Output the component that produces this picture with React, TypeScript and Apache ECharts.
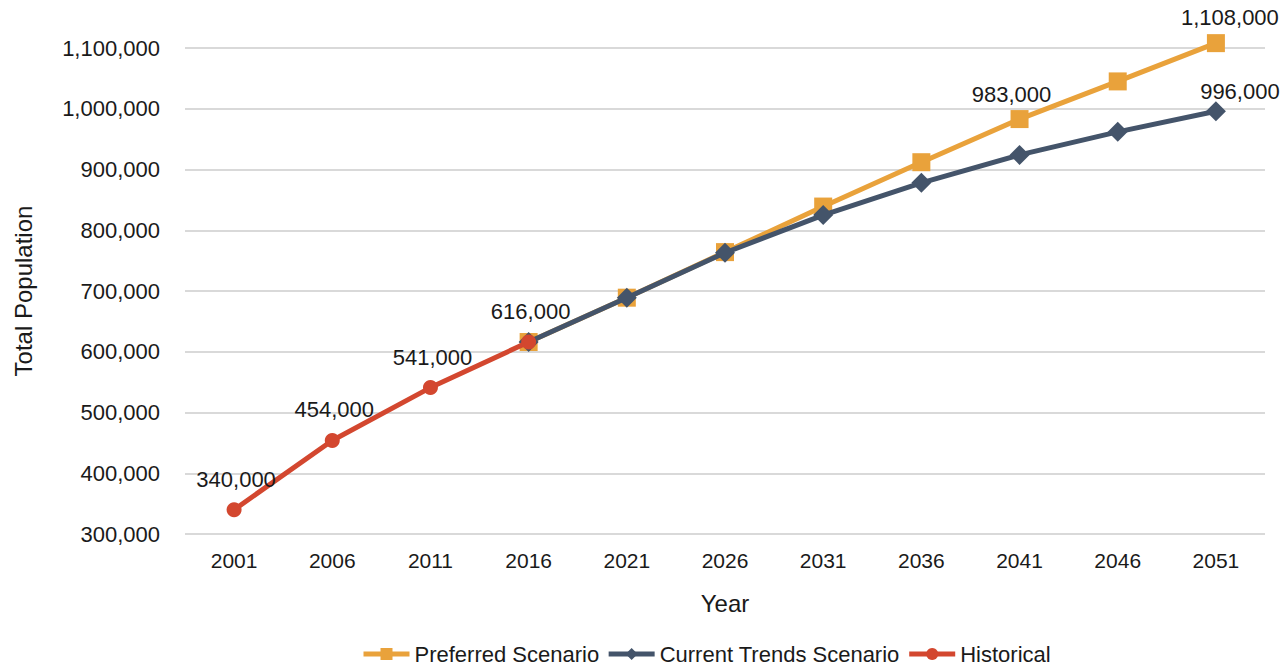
import React, { useEffect, useRef } from "react";
import * as echarts from "echarts";

const years = ["2001", "2006", "2011", "2016", "2021", "2026", "2031", "2036", "2041", "2046", "2051"];
const preferred: (number | null)[] = [null, null, null, 616000, 689000, 764000, 839000, 912000, 983000, 1045000, 1108000];
const currentTrends: (number | null)[] = [null, null, null, 616000, 689000, 763000, 825000, 878000, 924000, 962000, 996000];
const historical: (number | null)[] = [340000, 454000, 541000, 616000, null, null, null, null, null, null, null];

const preferredLabelled = ["2041", "2051"];
const currentLabelled = ["2051"];
const historicalLabelled = ["2001", "2006", "2011", "2016"];

const FONT = "'Liberation Sans', Arial, sans-serif";
const TEXT = "#1a1a1a";
const fmt = (v: number) => v.toLocaleString("en-US");

function build(values: (number | null)[], labelled: string[], offsets: Record<string, [number, number]>) {
  return values.map((v, i) => {
    if (v === null) return "-";
    if (labelled.includes(years[i])) {
      return {
        value: v,
        label: {
          show: true,
          position: "top",
          distance: 12,
          offset: offsets[years[i]] || [0, 0],
          formatter: (p: any) => fmt(p.value),
          fontSize: 22,
          fontFamily: FONT,
          color: TEXT,
        },
      };
    }
    return v;
  });
}

export default function App() {
  const ref = useRef<HTMLDivElement>(null);
  useEffect(() => {
    if (!ref.current) return;
    const chart = echarts.init(ref.current, undefined, { renderer: "svg" });
    chart.setOption({
      animation: false,
      backgroundColor: "#ffffff",
      grid: { left: 185, right: 19, top: 48, bottom: 133 },
      legend: {
        bottom: -3,
        left: 356,
        itemWidth: 46,
        itemHeight: 15,
        itemGap: 7,
        lineStyle: { width: 5 },
        textStyle: { fontSize: 22, fontFamily: FONT, color: TEXT },
        data: ["Preferred Scenario", "Current Trends Scenario", "Historical"],
      },
      xAxis: {
        type: "category",
        data: years,
        boundaryGap: true,
        name: "Year",
        nameLocation: "middle",
        nameGap: 57,
        nameTextStyle: { fontSize: 24, fontFamily: FONT, color: TEXT },
        axisLine: { show: false },
        axisTick: { show: false },
        axisLabel: { fontSize: 21, fontFamily: FONT, color: TEXT, margin: 16 },
      },
      yAxis: {
        type: "value",
        min: 300000,
        max: 1100000,
        interval: 100000,
        name: "Total Population",
        nameLocation: "middle",
        nameGap: 150,
        nameTextStyle: { fontSize: 24, fontFamily: FONT, color: TEXT },
        axisLine: { show: false },
        axisTick: { show: false },
        splitLine: { lineStyle: { color: "#d9d9d9", width: 2 } },
        axisLabel: {
          fontSize: 22,
          fontFamily: FONT,
          color: TEXT,
          margin: 25,
          formatter: (v: number) => fmt(v),
        },
      },
      series: [
        {
          name: "Preferred Scenario",
          type: "line",
          data: build(preferred, preferredLabelled, { "2041": [-8, 7], "2051": [14, 6] }),
          color: "#E9A23B",
          symbol: "rect",
          symbolSize: 18,
          lineStyle: { width: 5 },
          clip: false,
          z: 2,
        },
        {
          name: "Current Trends Scenario",
          type: "line",
          data: build(currentTrends, currentLabelled, { "2051": [24, 13] }),
          color: "#44546A",
          symbol: "diamond",
          symbolSize: 20,
          lineStyle: { width: 5 },
          clip: false,
          z: 3,
        },
        {
          name: "Historical",
          type: "line",
          data: build(historical, historicalLabelled, { "2001": [2, 0], "2006": [2, 0], "2011": [2, 0], "2016": [2, 0] }),
          color: "#D3472F",
          symbol: "circle",
          symbolSize: 15,
          lineStyle: { width: 5 },
          clip: false,
          z: 4,
        },
      ],
    });
    return () => chart.dispose();
  }, []);
  return <div ref={ref} style={{ position: "fixed", left: 0, top: 0, width: 1284, height: 667 }} />;
}
